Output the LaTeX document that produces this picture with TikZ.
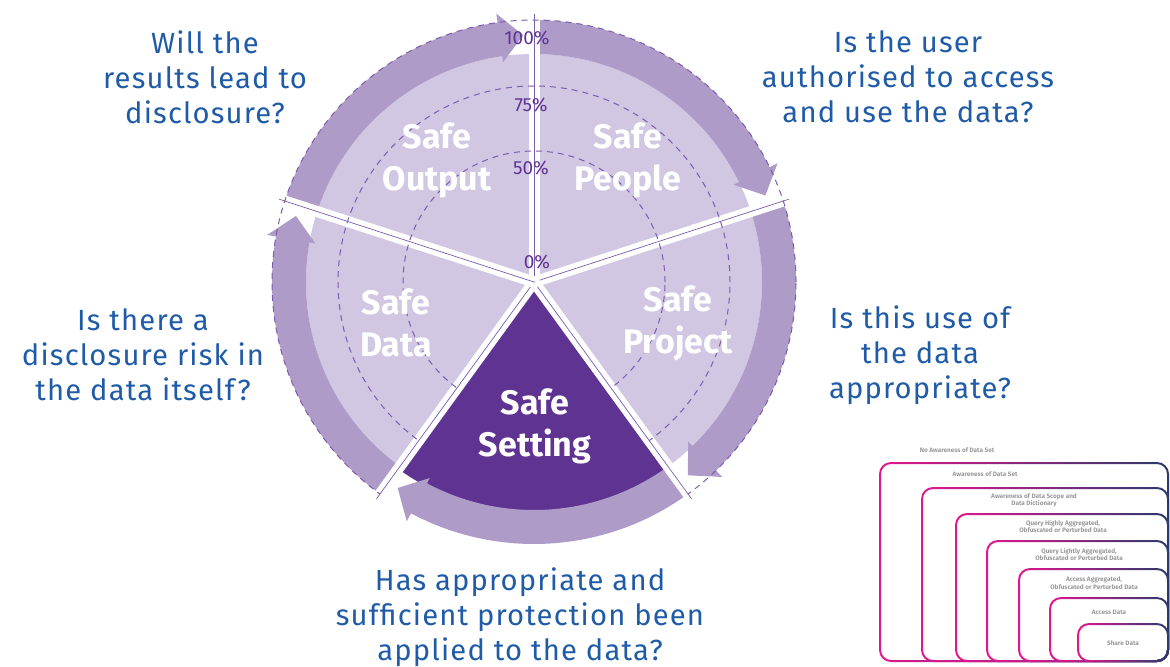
\documentclass[tikz,border=0pt]{standalone}
\usepackage{fontspec}
\setmainfont{Fira Sans}
\newfontfamily\questionfont[LetterSpace=4]{Fira Sans}
\usepackage{xcolor}
\usetikzlibrary{positioning}

\definecolor{lavender}{HTML}{D1C7E3}
\definecolor{bandpurple}{HTML}{AE9BC8}
\definecolor{deeppurple}{HTML}{5F3391}
\definecolor{linepurple}{HTML}{7C5CAC}
\definecolor{questionblue}{HTML}{1F5BA6}
\definecolor{boxpink}{HTML}{E2168E}
\definecolor{boxnavy}{HTML}{2A3A6E}
\definecolor{labelgray}{HTML}{9A9A9A}

\tikzset{
	question/.style={text=questionblue, align=center, inner sep=0pt,
		font=\questionfont\fontsize{14.6}{17.5}\selectfont},
	safelabel/.style={text=white, align=center, inner sep=0pt,
		font=\fontsize{17}{21}\selectfont\bfseries},
	pct/.style={text=deeppurple, inner sep=0pt,
		font=\fontsize{9.5}{11}\selectfont},
	levellabel/.style={text=labelgray, align=center, inner sep=0pt,
		font=\fontsize{3.2}{3.7}\selectfont\bfseries},
	ringline/.style={linepurple, dashed, line width=0.5pt, dash pattern=on 3pt off 2.5pt},
}

\begin{document}
\begin{tikzpicture}[x=0.5pt,y=0.5pt]
		
		\useasboundingbox (0,0) rectangle (1170,666);
		
		% wheel
		\begin{scope}[shift={(534,384)}]
			\coordinate (hub) at (0,0);
			
			\fill[lavender] (hub) circle[radius=228];
			
			\fill[deeppurple]
			(hub) -- (-126:231)
			arc[start angle=-126, end angle=-54, radius=231]
			-- cycle;
			
			% ring arrows
			\foreach \a in {162,90,18,-54,-126}{
				\pgfmathsetmacro{\b}{\a-72}
				\fill[bandpurple]
				(\a-0.5:262)
				arc[start angle=\a-0.5, end angle=\b+8, radius=262]
				-- (\b+8:271) -- (\b+2.5:247) -- (\b+8:222) -- (\b+8:228)
				arc[start angle=\b+8, end angle=\a-0.5, radius=228]
				-- cycle;
			}
			
			% separators
			\foreach \a in {90,18,-54,-126,162}{
				\draw[white, line width=5.5pt] (hub) -- (\a:268);
				\draw[linepurple, line width=0.35pt] (hub) -- (\a:268);
			}
			
			% percentage rings
			\begin{scope}[even odd rule]
				\clip (-300,-300) rectangle (300,300)
				(hub) -- (-126:300) arc[start angle=-126, end angle=-54, radius=300] -- cycle;
				\draw[ringline] (hub) circle[radius=131];
				\draw[ringline] (hub) circle[radius=196];
				\draw[ringline] (hub) circle[radius=262];
			\end{scope}
		\end{scope}
		
		\node[pct] (p100) at (527,628) {100\%};
		\node[pct] (p75) at (531,561) {75\%};
		\node[pct] (p50) at (531,498) {50\%};
		\node[pct] (p0) at (537,404) {0\%};
		
		\node[safelabel] (output) at (437,506) {Safe\\Output};
		\node[safelabel] (people) at (628,506) {Safe\\People};
		\node[safelabel] (project) at (678,343) {Safe\\Project};
		\node[safelabel] (data) at (396,343) {Safe\\Data};
		\node[safelabel] (setting) at (535,240) {Safe\\Setting};
		
		% questions
		\node[question] (qoutput) at (205,589) {Will the\\results lead to\\disclosure?};
		\node[question] (qpeople) at (908,589) {Is the user\\authorised to access\\and use the data?};
		\node[question] (qproject) at (920,311) {Is this use of\\the data\\appropriate?};
		\node[question] (qdata) at (143,311) {Is there a\\disclosure risk in\\the data itself?};
		\node[question] (qsetting) at (520,49) {Has appropriate and\\sufficient protection been\\applied to the data?};
		
		% nested access levels
		\foreach \l/\t in {880/463,922/488,956/514,987/541,1019/569,1050/598,1078/624}{
			\shade[left color=boxpink, right color=boxnavy, even odd rule]
			[rounded corners=6] (\l-1,4) rectangle (1169,667-\t)
			[rounded corners=5] (\l+1,6) rectangle (1167,665-\t);
		}
		
		\node[levellabel] (lvl0) at (957,216) {No Awareness of Data Set};
		\node[levellabel] (lvl1) at (985,192) {Awareness of Data Set};
		\node[levellabel] (lvl2) at (1034,166) {Awareness of Data Scope and\\Data Dictionary};
		\node[levellabel] (lvl3) at (1063,139.5) {Query Highly Aggregated,\\Obfuscated or Perturbed Data};
		\node[levellabel] (lvl4) at (1079,111.5) {Query Lightly Aggregated,\\Obfuscated or Perturbed Data};
		\node[levellabel] (lvl5) at (1094,83) {Access Aggregated,\\Obfuscated or Perturbed Data};
		\node[levellabel] (lvl6) at (1109,54) {Access Data};
		\node[levellabel] (lvl7) at (1123,23) {Share Data};
		
\end{tikzpicture}
\end{document}
